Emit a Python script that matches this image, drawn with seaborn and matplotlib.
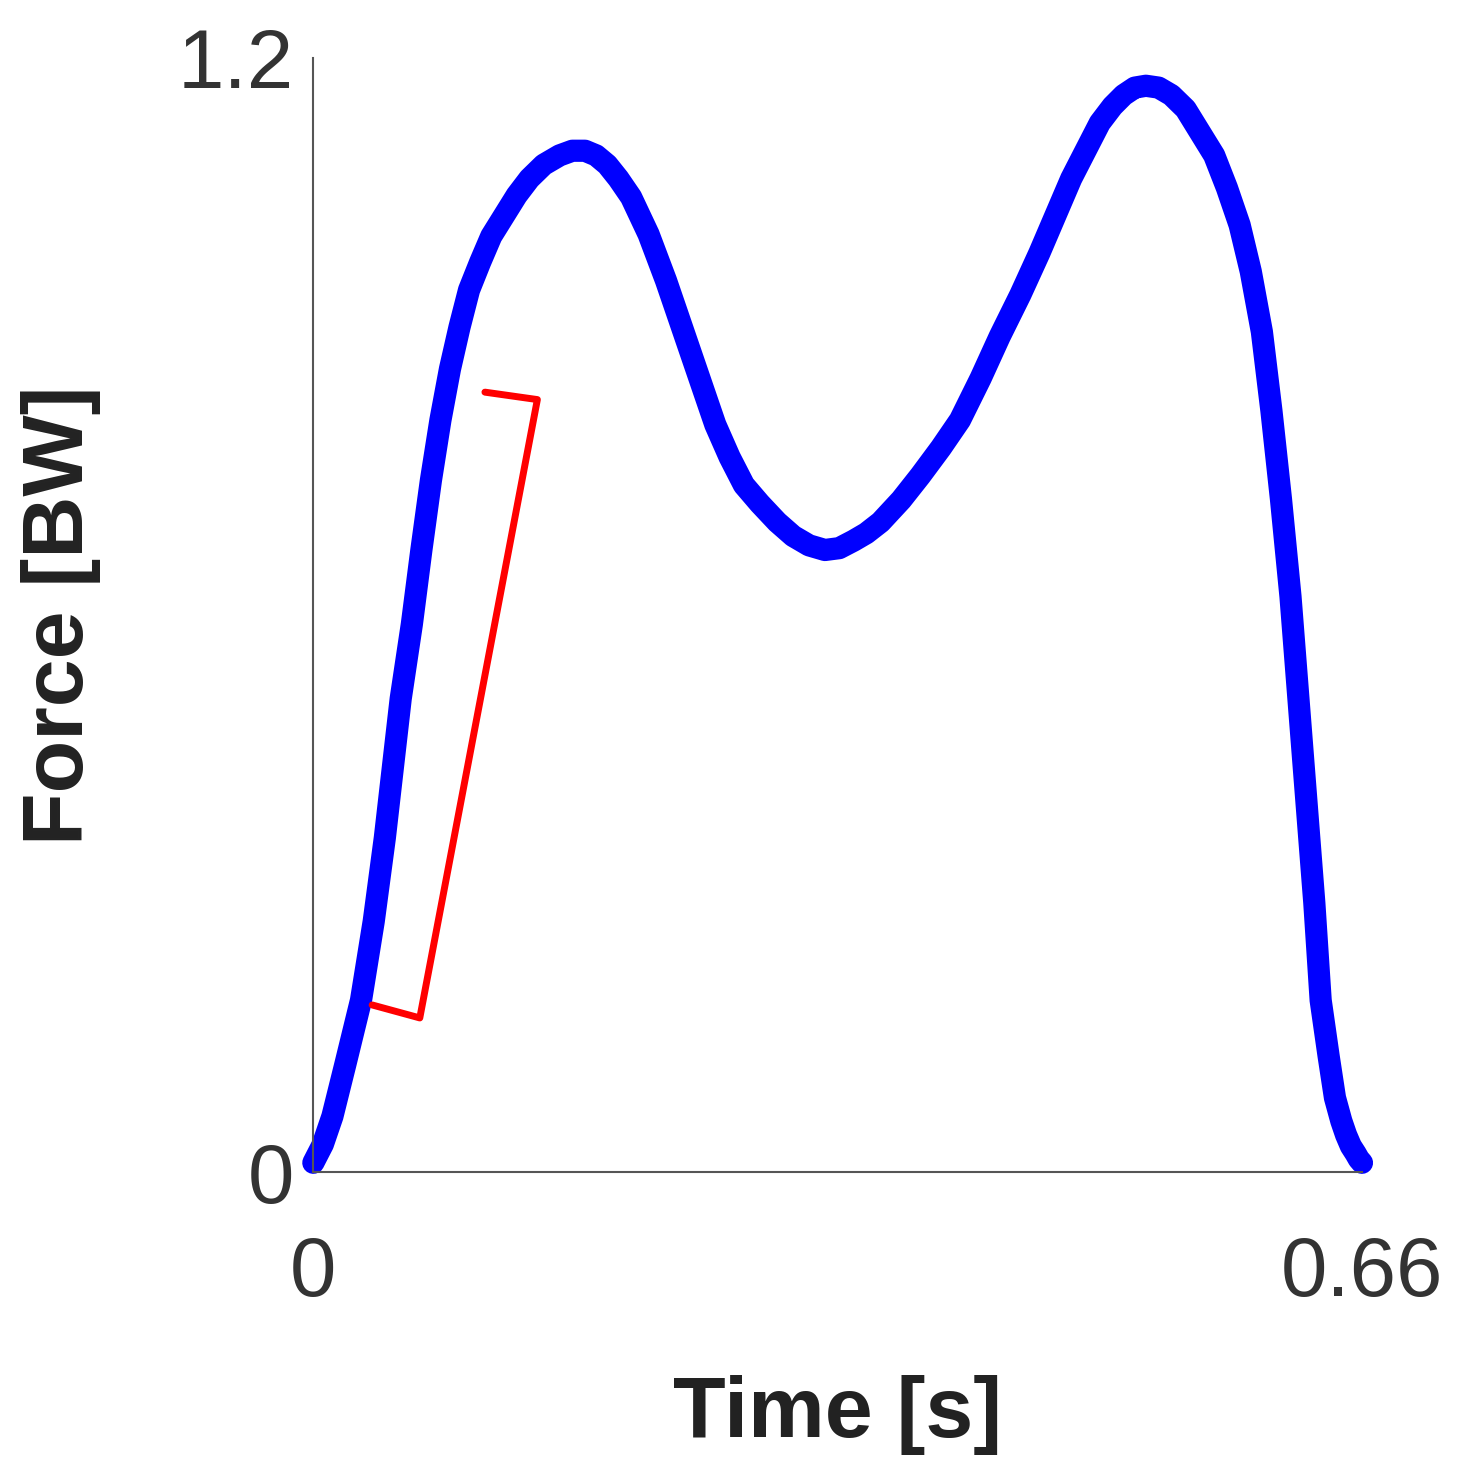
import matplotlib
matplotlib.use("Agg")
import matplotlib.pyplot as plt
import seaborn as sns
import pandas as pd

# Force curve
time_s = [0.0, 0.006, 0.012, 0.02, 0.03, 0.038, 0.045, 0.05, 0.055, 0.062, 0.068, 0.074,
          0.08, 0.086, 0.092, 0.098, 0.105, 0.112, 0.12, 0.128, 0.136, 0.145, 0.155,
          0.163, 0.171, 0.178, 0.185, 0.192, 0.2, 0.211, 0.222, 0.233, 0.244, 0.253,
          0.262, 0.271, 0.281, 0.292, 0.302, 0.312, 0.322, 0.331, 0.34, 0.348, 0.357,
          0.37, 0.382, 0.395, 0.407, 0.42, 0.432, 0.445, 0.457, 0.467, 0.477, 0.486,
          0.495, 0.503, 0.51, 0.517, 0.524, 0.532, 0.54, 0.549, 0.558, 0.567, 0.575,
          0.583, 0.59, 0.597, 0.603, 0.609, 0.615, 0.62, 0.625, 0.63, 0.634, 0.639,
          0.643, 0.647, 0.65, 0.653, 0.656, 0.658, 0.66]
force_bw = [0.01, 0.03, 0.06, 0.115, 0.185, 0.27, 0.36, 0.435, 0.51, 0.59, 0.67, 0.745,
            0.81, 0.865, 0.91, 0.95, 0.98, 1.008, 1.03, 1.052, 1.07, 1.085, 1.095,
            1.10, 1.10, 1.095, 1.085, 1.07, 1.05, 1.01, 0.96, 0.905, 0.85, 0.805,
            0.77, 0.74, 0.72, 0.70, 0.685, 0.675, 0.67, 0.672, 0.68, 0.688, 0.70,
            0.724, 0.75, 0.78, 0.81, 0.855, 0.90, 0.945, 0.99, 1.03, 1.07, 1.10,
            1.13, 1.148, 1.16, 1.168, 1.17, 1.168, 1.16, 1.145, 1.12, 1.095, 1.06,
            1.02, 0.97, 0.905, 0.82, 0.725, 0.62, 0.51, 0.40, 0.29, 0.185, 0.125,
            0.08, 0.055, 0.04, 0.028, 0.02, 0.014, 0.01]

# Red bracket marking the loading rate segment
bracket_t = [0.037, 0.067, 0.141, 0.108]
bracket_f = [0.18, 0.166, 0.832, 0.84]

df = pd.DataFrame({"Time": time_s, "Force": force_bw})

sns.set_theme(style="white")
plt.rcParams['font.family'] = ['Liberation Sans', 'DejaVu Sans']

fig = plt.figure(figsize=(14.78, 14.81), dpi=100)
ax = fig.add_axes([0.212, 0.2086, 0.7095, 0.7523])

sns.lineplot(data=df, x="Time", y="Force", color="#0000ff", linewidth=16,
             ax=ax, sort=False, clip_on=False, solid_capstyle="round",
             solid_joinstyle="round")
ax.plot(bracket_t, bracket_f, color="#ff0000", linewidth=5, clip_on=False)

ax.set_xlim(0, 0.66)
ax.set_ylim(0, 1.2)
ax.set_xticks([0, 0.66])
ax.set_xticklabels(["0", "0.66"])
ax.set_yticks([0, 1.2])
ax.set_yticklabels(["0", "1.2"])
ax.tick_params(axis="both", labelsize=60, labelcolor="#333333", length=0, pad=14)
ax.tick_params(axis="x", pad=45)
for s in ["top", "right"]:
    ax.spines[s].set_visible(False)
for s in ["left", "bottom"]:
    ax.spines[s].set_color("#555555")
    ax.spines[s].set_linewidth(1.5)

ax.set_xlabel("Time [s]", fontsize=62, fontweight="bold", color="#222222", labelpad=45)
ax.set_ylabel("Force [BW]", fontsize=62, fontweight="bold", color="#222222", labelpad=55)

plt.savefig("out.png", dpi=100)
